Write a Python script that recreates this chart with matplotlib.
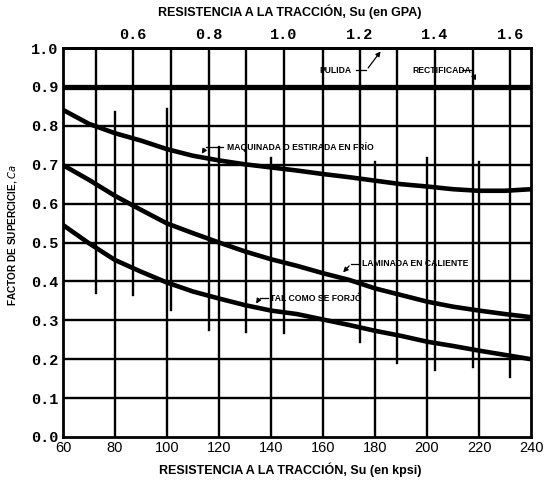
import numpy as np
import matplotlib
matplotlib.use("Agg")
import matplotlib.pyplot as plt

# surface factor curves (x in kpsi, y = Ca)
kpsi = [60, 70, 80, 90, 100, 110, 120, 130, 140, 150,
        160, 170, 180, 190, 200, 210, 220, 230, 240]
pulida = [1.0] * len(kpsi)
rectificada = [0.9] * len(kpsi)
maquinada = [0.841, 0.805, 0.781, 0.762, 0.740, 0.723, 0.711, 0.701, 0.693, 0.685,
             0.676, 0.668, 0.659, 0.650, 0.644, 0.637, 0.633, 0.633, 0.637]
laminada = [0.699, 0.661, 0.620, 0.584, 0.549, 0.524, 0.500, 0.477, 0.457, 0.440,
            0.421, 0.404, 0.382, 0.365, 0.348, 0.335, 0.325, 0.316, 0.308]
forjada = [0.545, 0.498, 0.455, 0.425, 0.397, 0.374, 0.356, 0.339, 0.325, 0.316,
           0.302, 0.288, 0.273, 0.260, 0.245, 0.234, 0.222, 0.211, 0.200]

# partial grid lines of the drawing
kpsi_lines = [80, 100, 120, 140, 160, 180, 200, 220]
kpsi_line_top = [0.836, 0.843, 0.746, 0.717, 1.0, 0.708, 0.717, 0.708]
gpa_lines = [0.5, 0.6, 0.7, 0.8, 0.9, 1.0, 1.2, 1.3, 1.4, 1.5, 1.6]
gpa_line_bottom = [0.37, 0.365, 0.326, 0.275, 0.27, 0.267, 0.245, 0.19, 0.172, 0.18, 0.155]

gpa_ticks = [0.6, 0.8, 1.0, 1.2, 1.4, 1.6]
kpsi_per_gpa = 145.04

fig = plt.figure(figsize=(5.5, 4.87), dpi=100)
ax = fig.add_axes([0.1145, 0.1027, 0.851, 0.7987])
ax.set_xlim(60, 240)
ax.set_ylim(0, 1.0)

lw_grid = 1.7
# horizontal lines
for v in np.arange(0.1, 0.95, 0.1):
    ax.axhline(v, color="black", lw=lw_grid, zorder=1)
# vertical kpsi lines (from some height down to the bottom)
for k, t in zip(kpsi_lines, kpsi_line_top):
    ax.plot([k, k], [0, t], color="black", lw=lw_grid, zorder=1)
# vertical GPa lines (from the top down)
for g, b in zip(gpa_lines, gpa_line_bottom):
    ax.plot([g * kpsi_per_gpa] * 2, [b, 1.0], color="black", lw=lw_grid, zorder=1)

# curves
curve = dict(color="black", zorder=3, solid_joinstyle="round", solid_capstyle="butt")
ax.plot(kpsi, rectificada, lw=3.8, **curve)
ax.plot(kpsi, maquinada, lw=3.3, **curve)
ax.plot(kpsi, laminada, lw=3.3, **curve)
ax.plot(kpsi, forjada, lw=3.3, **curve)

# curve labels with leaders
lab = dict(fontsize=6.2, fontweight="bold", family="Liberation Sans", va="center", zorder=5)
arrow = dict(arrowstyle="-|>", color="black", lw=0.9, mutation_scale=7)
ax.text(158.5, 0.943, "PULIDA", ha="left", **lab)
ax.plot([172.8, 176.7], [0.943, 0.943], color="black", lw=0.9)
ax.annotate("", xy=(182.8, pulida[0] - 0.003), xytext=(176.7, 0.943), arrowprops=arrow)
ax.text(194.5, 0.943, "RECTIFICADA", ha="left", **lab)
ax.plot([213.5, 217.0], [0.943, 0.943], color="black", lw=0.9)
ax.annotate("", xy=(219.2, rectificada[0] + 0.01), xytext=(217.0, 0.943), arrowprops=arrow)

ax.text(123.0, 0.746, "MAQUINADA O ESTIRADA EN FRÍO", ha="left", **lab)
ax.plot([121.5, 115.1], [0.746, 0.746], color="black", lw=0.9)
ax.annotate("", xy=(112.8, 0.722), xytext=(115.1, 0.746), arrowprops=arrow)

ax.text(175.0, 0.445, "LAMINADA EN CALIENTE", ha="left", **lab)
ax.plot([174.0, 170.8], [0.445, 0.445], color="black", lw=0.9)
ax.annotate("", xy=(167.0, 0.418), xytext=(170.8, 0.445), arrowprops=arrow)

ax.text(139.5, 0.357, "TAL COMO SE FORJÓ", ha="left", **lab)
ax.plot([138.8, 135.6], [0.357, 0.357], color="black", lw=0.9)
ax.annotate("", xy=(133.7, 0.337), xytext=(135.6, 0.357), arrowprops=arrow)

# axes look
for s in ax.spines.values():
    s.set_linewidth(2)
ax.set_xticks(np.arange(60, 241, 20))
ax.set_yticks(np.arange(0, 1.01, 0.1))
ax.set_yticklabels(["%.1f" % v for v in np.arange(0, 1.01, 0.1)],
                   family="Liberation Mono", fontweight="bold", fontsize=11)
ax.set_xticklabels([str(v) for v in range(60, 241, 20)], family="Liberation Sans", fontsize=10.5)
ax.tick_params(axis="both", length=0, pad=3)

top = ax.secondary_xaxis("top", functions=(lambda x: x / kpsi_per_gpa, lambda g: g * kpsi_per_gpa))
top.set_xticks(gpa_ticks)
top.set_xticklabels(["%.1f" % g for g in gpa_ticks], family="Liberation Mono",
                    fontweight="bold", fontsize=11)
top.tick_params(length=0, pad=4)
top.spines["top"].set_linewidth(2)

fig.text(0.527, 0.975, "RESISTENCIA A LA TRACCIÓN, Su (en GPA)", ha="center", va="center",
         fontsize=9, fontweight="bold", family="Liberation Sans")
fig.text(0.527, 0.035, "RESISTENCIA A LA TRACCIÓN, Su (en kpsi)", ha="center", va="center",
         fontsize=9, fontweight="bold", family="Liberation Sans")
fig.text(0.022, 0.517, "FACTOR DE SUPERCICIE, $\\mathit{Ca}$", rotation=90, ha="center", va="center",
         fontsize=7.2, fontweight="bold", family="Liberation Sans")

fig.savefig("out.png", dpi=100)
